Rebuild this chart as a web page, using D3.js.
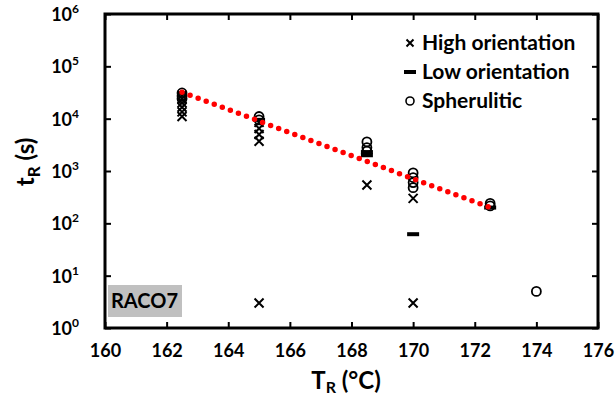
<!DOCTYPE html>
<html><head><meta charset="utf-8">
<script src="https://cdn.jsdelivr.net/npm/d3@7"></script>
<style>body{margin:0;background:#fff}svg{display:block}text{font-family:Lato,"Open Sans",sans-serif;font-weight:bold;fill:#000}</style>
</head><body>
<script>
// Data
const highT = [162.5,162.5,162.5,162.5,162.5,162.5,165,165,165,165,165,168.5,170,170];
const highV = [11000,13500,16500,20000,24000,28000,3700,5000,6500,8500,3,540,300,3];
const lowT = [165,168.5,168.5,170,172.5];
const lowV = [9500,2300,2000,62,200];
const spheT = [162.5,162.5,162.5,165,165,168.5,168.5,168.5,170,170,170,170,172.5,172.5,174];
const spheV = [31000,27000,24000,11000,9500,3600,2800,2400,920,750,600,480,240,215,5];
const fitT = [162.5,172.5];
const fitV = [32000,200];
const xTicks = [160,162,164,166,168,170,172,174,176];
const yTicks = [1,10,100,1000,10000,100000,1000000];
const legendLabels = ["High orientation","Low orientation","Spherulitic"];

const W=616,H=400;
const svg=d3.select("body").append("svg").attr("width",W).attr("height",H);
const L=105,R=598,T=14,B=328;
const x=d3.scaleLinear().domain([160,176]).range([L,R]);
const y=d3.scaleLog().domain([1,1e6]).range([B,T]);

// RACO7 label box
const g=svg.append("g");
g.append("rect").attr("x",108).attr("y",285).attr("width",74).attr("height",32).attr("fill","#c0c0c0");
g.append("text").attr("x",111).attr("y",308).attr("font-size",20).text("RACO7");

// ticks (inward, all four sides)
const tl=6;
const axB=svg.append("g").attr("transform",`translate(0,${B})`).call(d3.axisBottom(x).tickValues(xTicks).tickSizeInner(-tl).tickSizeOuter(0).tickPadding(16).tickFormat(d3.format("d")));
const axT=svg.append("g").attr("transform",`translate(0,${T})`).call(d3.axisTop(x).tickValues(xTicks).tickSizeInner(-tl).tickSizeOuter(0).tickFormat(""));
const axL=svg.append("g").attr("transform",`translate(${L},0)`).call(d3.axisLeft(y).tickValues(yTicks).tickSizeInner(-tl).tickSizeOuter(0).tickFormat(""));
const axR=svg.append("g").attr("transform",`translate(${R},0)`).call(d3.axisRight(y).tickValues(yTicks).tickSizeInner(-tl).tickSizeOuter(0).tickFormat(""));
[axB,axT,axL,axR].forEach(a=>{a.select(".domain").remove();a.selectAll("line").attr("stroke","#000").attr("stroke-width",2);});
axB.selectAll("text").attr("font-size",18).attr("font-family","Lato").attr("font-weight","bold").attr("fill","#000");

// y tick labels with superscripts
yTicks.forEach(v=>{
  const e=Math.round(Math.log10(v));
  const t=svg.append("text").attr("x",79).attr("y",y(v)+7).attr("text-anchor","end").attr("font-size",18);
  t.append("tspan").text("10");
  t.append("tspan").attr("dy",-8).attr("font-size",12).text(e);
});

// frame
svg.append("rect").attr("x",L).attr("y",T).attr("width",R-L).attr("height",B-T).attr("fill","none").attr("stroke","#000").attr("stroke-width",3);

// markers
const cross=(sel,s)=>sel.append("path").attr("d",`M${-s},${-s}L${s},${s}M${-s},${s}L${s},${-s}`).attr("stroke","#000").attr("stroke-width",2).attr("fill","none");
highT.forEach((t,i)=>{cross(svg.append("g").attr("transform",`translate(${x(t)},${y(highV[i])})`),4.5);});
lowT.forEach((t,i)=>{svg.append("rect").attr("x",x(t)-6).attr("y",y(lowV[i])-2).attr("width",12).attr("height",4).attr("fill","#000");});
spheT.forEach((t,i)=>{svg.append("circle").attr("cx",x(t)).attr("cy",y(spheV[i])).attr("r",4.5).attr("fill","none").attr("stroke","#000").attr("stroke-width",1.8);});

// fit line (dotted red), drawn on top of the markers
svg.append("path").datum(fitT.map((t,i)=>[t,fitV[i]]))
  .attr("d",d3.line().x(d=>x(d[0])).y(d=>y(d[1])))
  .attr("fill","none").attr("stroke","#ff0000").attr("stroke-width",5.5)
  .attr("stroke-linecap","round").attr("stroke-dasharray","0 8.6");

// legend
const lg=svg.append("g");
const ly=[43,72,101];
cross(lg.append("g").attr("transform",`translate(410,${ly[0]})`),3.5);
lg.append("rect").attr("x",404).attr("y",ly[1]-2).attr("width",12).attr("height",4).attr("fill","#000");
lg.append("circle").attr("cx",410).attr("cy",ly[2]).attr("r",4).attr("fill","none").attr("stroke","#000").attr("stroke-width",1.6);
legendLabels.forEach((s,i)=>lg.append("text").attr("x",422).attr("y",ly[i]+7).attr("font-size",21).text(s));

// axis titles
const xt=svg.append("text").attr("x",346).attr("y",389).attr("text-anchor","middle").attr("font-size",24);
xt.append("tspan").text("T");
xt.append("tspan").attr("dy",4).attr("font-size",16).text("R");
xt.append("tspan").attr("dy",-4).text(" (°C)");
const yt=svg.append("text").attr("transform","translate(34,162) rotate(-90)").attr("text-anchor","middle").attr("font-size",24);
yt.append("tspan").text("t");
yt.append("tspan").attr("dy",6).attr("font-size",17).text("R");
yt.append("tspan").attr("dy",-6).text(" (s)");
</script>
</body></html>
